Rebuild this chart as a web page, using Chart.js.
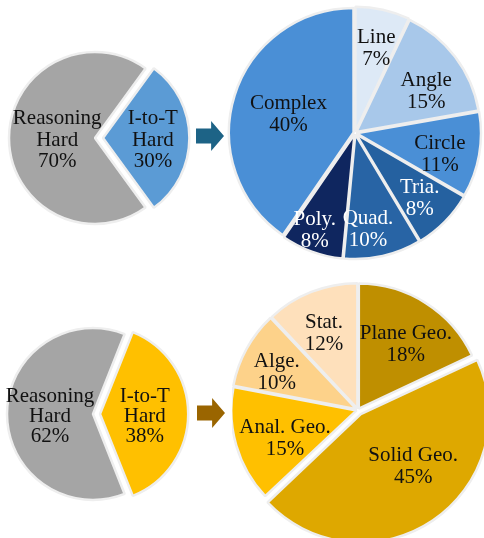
<!DOCTYPE html>
<html>
<head>
<meta charset="utf-8">
<script src="https://cdn.jsdelivr.net/npm/chart.js@4"></script>
<style>
  html, body { margin: 0; padding: 0; background: #fff; }
  #wrap { position: relative; width: 484px; height: 538px; overflow: hidden; }
  canvas { position: absolute; }
  .arrow { position: absolute; width: 28px; height: 30px;
    clip-path: polygon(0 25%, 54% 25%, 54% 0, 100% 50%, 54% 100%, 54% 75%, 0 75%); }
</style>
</head>
<body>
<div id="wrap">
  <canvas id="c1" width="200" height="200" style="left:-5px;top:38px"></canvas>
  <canvas id="c2" width="258" height="266" style="left:226px;top:0"></canvas>
  <canvas id="c3" width="196" height="188" style="left:-5px;top:320px"></canvas>
  <canvas id="c4" width="252" height="260" style="left:232px;top:280px"></canvas>
  <div class="arrow" style="left:196px;top:121px;background:#1d6386"></div>
  <div class="arrow" style="left:197px;top:398px;background:#9a6500"></div>
</div>
<script>
// top: image-to-text hard vs reasoning hard, then breakdown
const topSplitLabels = [['I-to-T', 'Hard'], ['Reasoning', 'Hard']];
const topSplitValues = [30, 70];

const topTopicLabels = [['Line'], ['Angle'], ['Circle'], ['Tria.'], ['Quad.'], ['Poly.'], ['Complex']];
const topTopicValues = [7, 15, 11, 8, 10, 8, 40];

// bottom
const botSplitLabels = [['I-to-T', 'Hard'], ['Reasoning', 'Hard']];
const botSplitValues = [38, 62];

const botTopicLabels = [['Plane Geo.'], ['Solid Geo.'], ['Anal. Geo.'], ['Alge.'], ['Stat.']];
const botTopicValues = [18, 45, 15, 10, 12];

const FONT = '21px "Liberation Serif", "Times New Roman", serif';

// draws "name / value%" inside each slice
const sliceLabels = {
  id: 'sliceLabels',
  afterDatasetsDraw(chart, args, opts) {
    const ctx = chart.ctx;
    const meta = chart.getDatasetMeta(0);
    const vals = chart.data.datasets[0].data;
    ctx.save();
    ctx.font = FONT;
    ctx.textAlign = 'center';
    ctx.textBaseline = 'middle';
    meta.data.forEach((arc, i) => {
      const p = arc.getProps(['x', 'y', 'startAngle', 'endAngle', 'outerRadius'], true);
      const mid = (p.startAngle + p.endAngle) / 2;
      const shift = (arc.options.offset || 0) / 4;
      const a = mid + (opts.turn[i] || 0) * Math.PI / 180;
      const r = p.outerRadius * opts.frac[i];
      const cx = p.x + Math.cos(mid) * shift + Math.cos(a) * r;
      const cy = p.y + Math.sin(mid) * shift + Math.sin(a) * r + 2;
      const lines = chart.data.labels[i].concat([vals[i] + '%']);
      ctx.fillStyle = opts.colors[i];
      const lh = opts.lineHeight;
      lines.forEach((t, k) => {
        ctx.fillText(t, cx, cy + (k - (lines.length - 1) / 2) * lh);
      });
    });
    ctx.restore();
  }
};

function pie(id, labels, values, o) {
  return new Chart(document.getElementById(id), {
    type: 'pie',
    data: {
      labels: labels,
      datasets: [{
        data: values,
        backgroundColor: o.fill,
        borderColor: '#eeeeee',
        borderWidth: 2.5,
        offset: o.offset
      }]
    },
    options: {
      responsive: false,
      animation: false,
      radius: o.radius,
      rotation: o.rotation,
      layout: { padding: 0 },
      events: [],
      plugins: {
        legend: { display: false },
        tooltip: { enabled: false },
        sliceLabels: { frac: o.frac, turn: o.turn, colors: o.text, lineHeight: o.lh }
      }
    },
    plugins: [sliceLabels]
  });
}

pie('c1', topSplitLabels, topSplitValues, {
  fill: ['#5b9bd5', '#a5a5a5'],
  offset: [32, 0],
  radius: 86,
  rotation: 36,
  frac: [0.58, 0.44],
  turn: [0, 0],
  text: ['#111', '#111'],
  lh: 21.5
});

pie('c2', topTopicLabels, topTopicValues, {
  fill: ['#dde9f6', '#a8c8ea', '#4a8fd6', '#2561a0', '#2864a5', '#0f265f', '#4a8fd6'],
  offset: [6, 6, 6, 6, 6, 6, 6],
  radius: 124,
  rotation: 0,
  frac: [0.71, 0.66, 0.69, 0.72, 0.76, 0.82, 0.55],
  turn: [1, 6, 3, 0, 5, 3, 0],
  text: ['#111', '#111', '#111', '#fff', '#fff', '#fff', '#111'],
  lh: 22
});

pie('c3', botSplitLabels, botSplitValues, {
  fill: ['#ffc000', '#a5a5a5'],
  offset: [28, 0],
  radius: 86,
  rotation: 21.6,
  frac: [0.52, 0.5],
  turn: [0, 0],
  text: ['#111', '#111'],
  lh: 20
});

pie('c4', botTopicLabels, botTopicValues, {
  fill: ['#bf8f00', '#dea800', '#ffc000', '#fdd28a', '#fee0bb'],
  offset: [6, 20, 6, 6, 6],
  radius: 125,
  rotation: 0,
  frac: [0.65, 0.58, 0.61, 0.71, 0.67],
  turn: [3, -12, -4, -3, -2],
  text: ['#111', '#111', '#111', '#111', '#111'],
  lh: 22
});
</script>
</body>
</html>
